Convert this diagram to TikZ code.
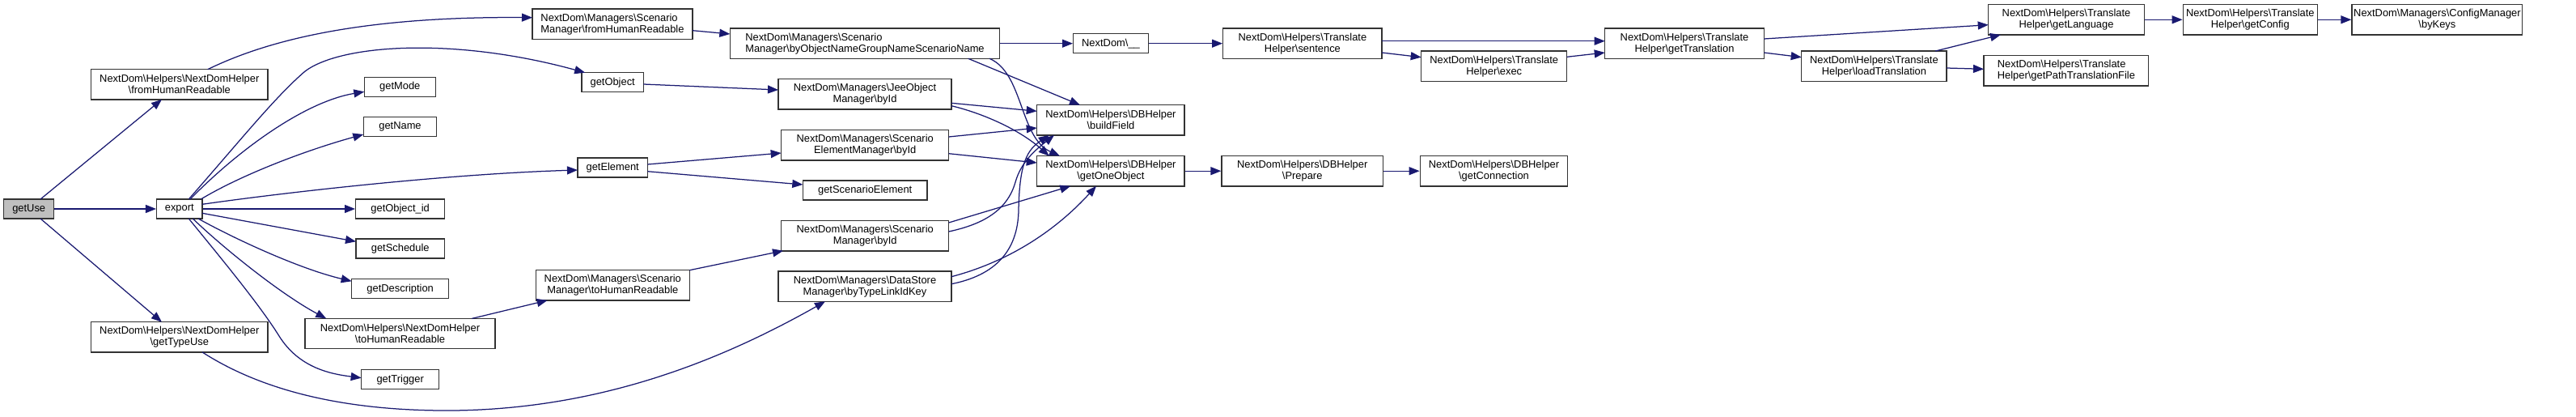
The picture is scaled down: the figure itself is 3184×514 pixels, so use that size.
\documentclass[tikz,border=0pt]{standalone}
\usepackage{fontspec}
\setmainfont{Liberation Sans}
\usetikzlibrary{arrows.meta}
\definecolor{edgecol}{HTML}{191970}
\definecolor{boxcol}{HTML}{333333}
\definecolor{rootfill}{HTML}{BFBFBF}
\newcommand{\bsl}{\textbackslash}
\newcommand{\nodept}[3]{([shift={(#2,#3)}]#1.center)}
\tikzset{
 nd/.style={draw=boxcol, line width=1.35pt, fill=white, inner sep=0pt, font=\fontsize{12.9}{14}\selectfont, align=center, minimum height=24pt},
 ndd/.style={nd, minimum height=37.3pt},
 ed/.style={draw=edgecol, line width=1.25pt, -{Triangle[length=13pt,width=10pt]}}
}
\begin{document}
\begin{tikzpicture}[x=1pt,y=-1pt]
\useasboundingbox (0,0) rectangle (3184,514);
% nodes
\node[nd, minimum width=62pt, fill=rootfill] (getUse) at (35.7,258) {getUse};
\node[ndd, minimum width=218.3pt] (ndhFrom) at (221.8,104.3) {NextDom\bsl Helpers\bsl NextDomHelper\\\bsl fromHumanReadable};
\node[nd, minimum width=56.3pt] (export) at (221.8,258) {export};
\node[ndd, minimum width=218.3pt] (ndhType) at (221.8,416.3) {NextDom\bsl Helpers\bsl NextDomHelper\\\bsl getTypeUse};
\node[nd, minimum width=88pt] (getMode) at (494.3,107.3) {getMode};
\node[nd, minimum width=90.4pt] (getName) at (494.5,156.5) {getName};
\node[nd, minimum width=110pt] (getObjectId) at (494.7,258) {getObject\_id};
\node[nd, minimum width=109.3pt] (getSchedule) at (494.7,307) {getSchedule};
\node[nd, minimum width=120pt] (getDescription) at (494.7,356.7) {getDescription};
\node[ndd, minimum width=235pt] (ndhToHR) at (494.5,412) {NextDom\bsl Helpers\bsl NextDomHelper\\\bsl toHumanReadable};
\node[nd, minimum width=96pt] (getTrigger) at (494.7,468.7) {getTrigger};
\node[ndd, minimum width=198pt, align=left] (smFromHR) at (757,29.7) {NextDom\bsl Managers\bsl Scenario\\Manager\bsl fromHumanReadable};
\node[nd, minimum width=76.3pt] (getObject) at (757.2,101.7) {getObject};
\node[nd, minimum width=86.3pt] (getElement) at (757.2,207) {getElement};
\node[ndd, minimum width=190pt] (smToHR) at (757.3,352.3) {NextDom\bsl Managers\bsl Scenario\\Manager\bsl toHumanReadable};
\node[ndd, minimum width=333.4pt, align=left] (byObjName) at (1069,53.7) {NextDom\bsl Managers\bsl Scenario\\Manager\bsl byObjectNameGroupNameScenarioName};
\node[ndd, minimum width=214pt] (jeeById) at (1069,116.3) {NextDom\bsl Managers\bsl JeeObject\\Manager\bsl byId};
\node[ndd, minimum width=207pt] (seById) at (1069.2,179.3) {NextDom\bsl Managers\bsl Scenario\\ElementManager\bsl byId};
\node[nd, minimum width=153.7pt] (getScenElem) at (1069.2,235) {getScenarioElement};
\node[ndd, minimum width=207pt] (smById) at (1069.2,291.2) {NextDom\bsl Managers\bsl Scenario\\Manager\bsl byId};
\node[ndd, minimum width=214pt] (dsByType) at (1069,353.7) {NextDom\bsl Managers\bsl DataStore\\Manager\bsl byTypeLinkIdKey};
\node[nd, minimum width=92.6pt] (ndUnd) at (1373,53.7) {NextDom\bsl\_\_};
\node[ndd, minimum width=182.3pt] (buildField) at (1372.9,148.3) {NextDom\bsl Helpers\bsl DBHelper\\\bsl buildField};
\node[ndd, minimum width=182.3pt] (getOneObject) at (1372.9,211.2) {NextDom\bsl Helpers\bsl DBHelper\\\bsl getOneObject};
\node[ndd, minimum width=196.3pt] (sentence) at (1609.9,53.7) {NextDom\bsl Helpers\bsl Translate\\Helper\bsl sentence};
\node[ndd, minimum width=199.3pt] (prepare) at (1609.7,211.2) {NextDom\bsl Helpers\bsl DBHelper\\\bsl Prepare};
\node[ndd, minimum width=180pt] (exec) at (1846.7,81.7) {NextDom\bsl Helpers\bsl Translate\\Helper\bsl exec};
\node[ndd, minimum width=182.4pt] (getConnection) at (1846.5,211.2) {NextDom\bsl Helpers\bsl DBHelper\\\bsl getConnection};
\node[ndd, minimum width=196.6pt] (getTranslation) at (2082,53.7) {NextDom\bsl Helpers\bsl Translate\\Helper\bsl getTranslation};
\node[ndd, minimum width=179.3pt] (loadTranslation) at (2316.4,81.7) {NextDom\bsl Helpers\bsl Translate\\Helper\bsl loadTranslation};
\node[ndd, minimum width=192.6pt] (getLanguage) at (2554,24.3) {NextDom\bsl Helpers\bsl Translate\\Helper\bsl getLanguage};
\node[ndd, minimum width=203.7pt, align=left] (getPathTF) at (2553.9,87.2) {NextDom\bsl Helpers\bsl Translate\\Helper\bsl getPathTranslationFile};
\node[ndd, minimum width=166pt] (getConfig) at (2781.3,24.3) {NextDom\bsl Helpers\bsl Translate\\Helper\bsl getConfig};
\node[ndd, minimum width=210.7pt] (byKeys) at (3012.4,24.3) {NextDom\bsl Managers\bsl ConfigManager\\\bsl byKeys};
% edges
\draw[ed] \nodept{getUse}{14.3}{-12} -- \nodept{ndhFrom}{-21.8}{18.6};
\draw[ed] (getUse.east) -- (export.west);
\draw[ed] \nodept{getUse}{14.3}{12} -- \nodept{ndhType}{-21.8}{-18.6};
\draw[ed] \nodept{ndhFrom}{34.9}{-18.6} .. controls (320,55) and (430,20) .. \nodept{smFromHR}{-99}{-8};
\draw[ed] \nodept{export}{11.5}{-12} .. controls (300,170) and (340,120) .. (376.7,88.3) .. controls (420,55) and (560,45) .. \nodept{getObject}{-34}{-12};
\draw[ed] \nodept{export}{13.2}{-12} .. controls (300,180) and (380,125) .. \nodept{getMode}{-44}{6};
\draw[ed] \nodept{export}{26.5}{-12} .. controls (300,215) and (380,185) .. \nodept{getName}{-45.2}{9.5};
\draw[ed] \nodept{export}{28.2}{-5.7} .. controls (350,238) and (550,215) .. \nodept{getElement}{-43.2}{3};
\draw[ed] (export.east) -- (getObjectId.west);
\draw[ed] \nodept{export}{28.2}{5.3} -- \nodept{getSchedule}{-54.7}{-8.7};
\draw[ed] \nodept{export}{23.2}{12} .. controls (290,295) and (370,332) .. \nodept{getDescription}{-60}{-9.4};
\draw[ed] \nodept{export}{16.5}{12} .. controls (280,310) and (350,365) .. \nodept{ndhToHR}{-91.2}{-18.6};
\draw[ed] \nodept{export}{11.5}{12} .. controls (270,315) and (320,375) .. (345,415) .. controls (370,455) and (410,462) .. \nodept{getTrigger}{-48}{-2};
\draw[ed] \nodept{ndhType}{28.2}{18.6} .. controls (320,480) and (420,508) .. (560,507) .. controls (750,505) and (900,440) .. \nodept{dsByType}{-49}{18.6};
\draw[ed] \nodept{ndhToHR}{88.8}{-18.6} -- \nodept{smToHR}{-80.6}{18.6};
\draw[ed] \nodept{smFromHR}{99}{8} -- \nodept{byObjName}{-166.7}{-11.7};
\draw[ed] \nodept{getObject}{38.1}{2.3} -- \nodept{jeeById}{-107}{-5.3};
\draw[ed] \nodept{getElement}{43.1}{-4} -- \nodept{seById}{-103.5}{9.7};
\draw[ed] \nodept{getElement}{43.1}{4.7} -- \nodept{getScenElem}{-76.9}{-7};
\draw[ed] \nodept{smToHR}{95}{-18.6} -- \nodept{smById}{-101.2}{18.5};
\draw[ed] (byObjName.east) -- (ndUnd.west);
\draw[ed] \nodept{byObjName}{127.7}{18.6} -- \nodept{buildField}{-37.9}{-18.6};
\draw[ed] \nodept{byObjName}{154}{18.6} .. controls (1265,90) and (1260,170) .. \nodept{getOneObject}{-62.9}{-18.6};
\draw[ed] \nodept{jeeById}{107}{11} -- \nodept{buildField}{-91.2}{-11};
\draw[ed] \nodept{jeeById}{107}{14.4} .. controls (1215,140) and (1260,160) .. \nodept{getOneObject}{-76.2}{-18.6};
\draw[ed] \nodept{seById}{103.5}{-10.3} -- \nodept{buildField}{-91.2}{9.7};
\draw[ed] \nodept{seById}{103.5}{10.4} -- \nodept{getOneObject}{-91.2}{-10.2};
\draw[ed] \nodept{smById}{103.5}{-16.2} -- \nodept{getOneObject}{-49.6}{18.6};
\draw[ed] \nodept{smById}{103.5}{-5.2} .. controls (1215,277) and (1245,260) .. (1255,225) .. controls (1262,200) and (1280,185) .. \nodept{buildField}{-69.9}{18.6};
\draw[ed] \nodept{dsByType}{107}{-12} .. controls (1240,325) and (1300,290) .. \nodept{getOneObject}{-17.9}{18.6};
\draw[ed] \nodept{dsByType}{107}{-3} .. controls (1230,340) and (1258,310) .. (1259,260) .. controls (1260,200) and (1270,185) .. \nodept{buildField}{-76.2}{18.6};
\draw[ed] (ndUnd.east) -- (sentence.west);
\draw[ed] \nodept{sentence}{98.1}{-3} -- \nodept{getTranslation}{-98.3}{-3};
\draw[ed] \nodept{sentence}{98.1}{11.3} -- \nodept{exec}{-90}{-11};
\draw[ed] \nodept{exec}{90}{-11.4} -- \nodept{getTranslation}{-98.3}{11.3};
\draw[ed] (getOneObject.east) -- (prepare.west);
\draw[ed] (prepare.east) -- (getConnection.west);
\draw[ed] \nodept{getTranslation}{98.3}{-5.7} -- \nodept{getLanguage}{-96.3}{6.4};
\draw[ed] \nodept{getTranslation}{98.3}{11.3} -- \nodept{loadTranslation}{-89.7}{-11};
\draw[ed] \nodept{loadTranslation}{75.6}{-18.6} -- \nodept{getLanguage}{-81}{18.6};
\draw[ed] \nodept{loadTranslation}{89.6}{2.3} -- \nodept{getPathTF}{-101.9}{-1.9};
\draw[ed] (getLanguage.east) -- (getConfig.west);
\draw[ed] (getConfig.east) -- (byKeys.west);
\end{tikzpicture}
\end{document}
